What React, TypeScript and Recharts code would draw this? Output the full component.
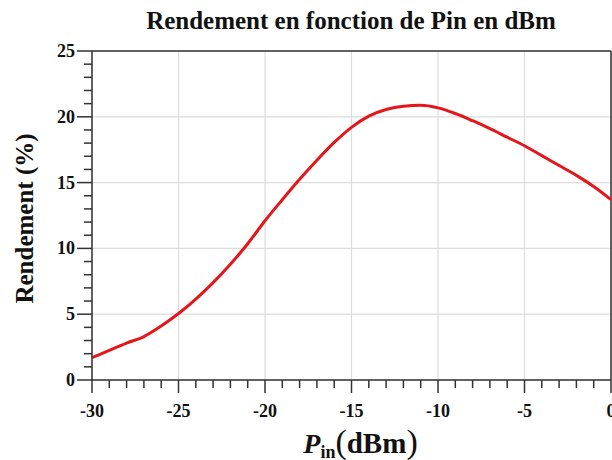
import { LineChart, Line, XAxis, YAxis, CartesianGrid, ReferenceLine } from 'recharts';

// Pin (dBm) and efficiency (%)
const pinDbm = [-30, -29, -28, -27, -26, -25, -24, -23, -22, -21, -20, -19, -18, -17, -16, -15, -14, -13, -12, -11, -10, -9, -8, -7, -6, -5, -4, -3, -2, -1, 0];
const rendement = [1.7, 2.25, 2.8, 3.3, 4.1, 5.05, 6.15, 7.4, 8.8, 10.35, 12.1, 13.7, 15.25, 16.7, 18.05, 19.2, 20.05, 20.55, 20.8, 20.87, 20.68, 20.25, 19.7, 19.1, 18.45, 17.8, 17.05, 16.3, 15.55, 14.7, 13.7];

const xTicks = [-30, -29, -28, -27, -26, -25, -24, -23, -22, -21, -20, -19, -18, -17, -16, -15, -14, -13, -12, -11, -10, -9, -8, -7, -6, -5, -4, -3, -2, -1, 0];
const yTicks = [0, 1, 2, 3, 4, 5, 6, 7, 8, 9, 10, 11, 12, 13, 14, 15, 16, 17, 18, 19, 20, 21, 22, 23, 24, 25];
const majorX = [-30, -25, -20, -15, -10, -5, 0];
const majorY = [0, 5, 10, 15, 20, 25];

const data = pinDbm.map((p, i) => ({ pin: p, rendement: rendement[i] }));

const FONT = '"Liberation Serif", "Times New Roman", serif';
const AXIS = '#333';

function XTick({ x, y, payload }: any) {
    const major = payload.value % 5 === 0;
    return (
        <g>
            <line x1={x} y1={y} x2={x} y2={y + (major ? 13 : 8)} stroke={AXIS} strokeWidth={1.5} />
            {major && (
                <text x={x} y={y + 37} textAnchor="middle" fontFamily={FONT} fontWeight="bold" fontSize={18} fill="#111">
                    {payload.value}
                </text>
            )}
        </g>
    );
}

function YTick({ x, y, payload }: any) {
    const major = payload.value % 5 === 0;
    return (
        <g>
            <line x1={x} y1={y} x2={x - (major ? 15 : 8)} y2={y} stroke={AXIS} strokeWidth={1.5} />
            {major && (
                <text x={x - 17} y={y + 6} textAnchor="end" fontFamily={FONT} fontWeight="bold" fontSize={18} fill="#111">
                    {payload.value}
                </text>
            )}
        </g>
    );
}

function XLabel({ viewBox }: any) {
    const cx = viewBox.x + viewBox.width / 2 + 9;
    const base = viewBox.y + 73;
    return (
        <text x={cx} y={base} textAnchor="middle" fontFamily={FONT} fontWeight="bold" fill="#111">
            <tspan fontStyle="italic" fontSize={28}>P</tspan>
            <tspan fontSize={18} dy={5}>in</tspan>
            <tspan fontSize={34} fontWeight="normal" dy={-5}>(</tspan>
            <tspan fontSize={29}>dBm</tspan>
            <tspan fontSize={34} fontWeight="normal">)</tspan>
        </text>
    );
}

function YLabel({ viewBox }: any) {
    const cy = viewBox.y + viewBox.height / 2 + 3;
    return (
        <text x={33} y={cy} transform={`rotate(-90, 33, ${cy})`} textAnchor="middle" fontFamily={FONT} fontWeight="bold" fontSize={25} fill="#111">
            Rendement (%)
        </text>
    );
}

export default function App() {
    return (
        <div style={{ position: 'absolute', left: 0, top: 0, width: 612, height: 460, background: '#fff' }}>
            <LineChart width={612} height={460} data={data} margin={{ top: 51, right: 1, bottom: 0, left: 52 }}>
                <CartesianGrid stroke="#dcdcdc" strokeWidth={1.2} horizontalValues={majorY} verticalValues={majorX} />
                <XAxis
                    dataKey="pin"
                    type="number"
                    domain={[-30, 0]}
                    ticks={xTicks}
                    interval={0}
                    tickSize={0}
                    tickMargin={0}
                    tick={<XTick />}
                    height={80}
                    axisLine={{ stroke: AXIS, strokeWidth: 1.5 }}
                    label={<XLabel />}
                />
                <YAxis
                    type="number"
                    domain={[0, 25]}
                    ticks={yTicks}
                    interval={0}
                    tickSize={0}
                    tickMargin={0}
                    tick={<YTick />}
                    width={40}
                    axisLine={{ stroke: AXIS, strokeWidth: 1.5 }}
                    label={<YLabel />}
                />
                <ReferenceLine y={25} stroke={AXIS} strokeWidth={1.5} />
                <ReferenceLine x={0} stroke={AXIS} strokeWidth={1.5} />
                <Line
                    type="monotone"
                    dataKey="rendement"
                    stroke="#e3161b"
                    strokeWidth={3}
                    dot={false}
                    isAnimationActive={false}
                />
            </LineChart>
            <svg width={612} height={40} style={{ position: 'absolute', left: 0, top: 0, pointerEvents: 'none' }}>
                <text x={351} y={29} textAnchor="middle" fontFamily={FONT} fontWeight="bold" fontSize={25} fill="#111">
                    Rendement en fonction de Pin en dBm
                </text>
            </svg>
        </div>
    );
}
